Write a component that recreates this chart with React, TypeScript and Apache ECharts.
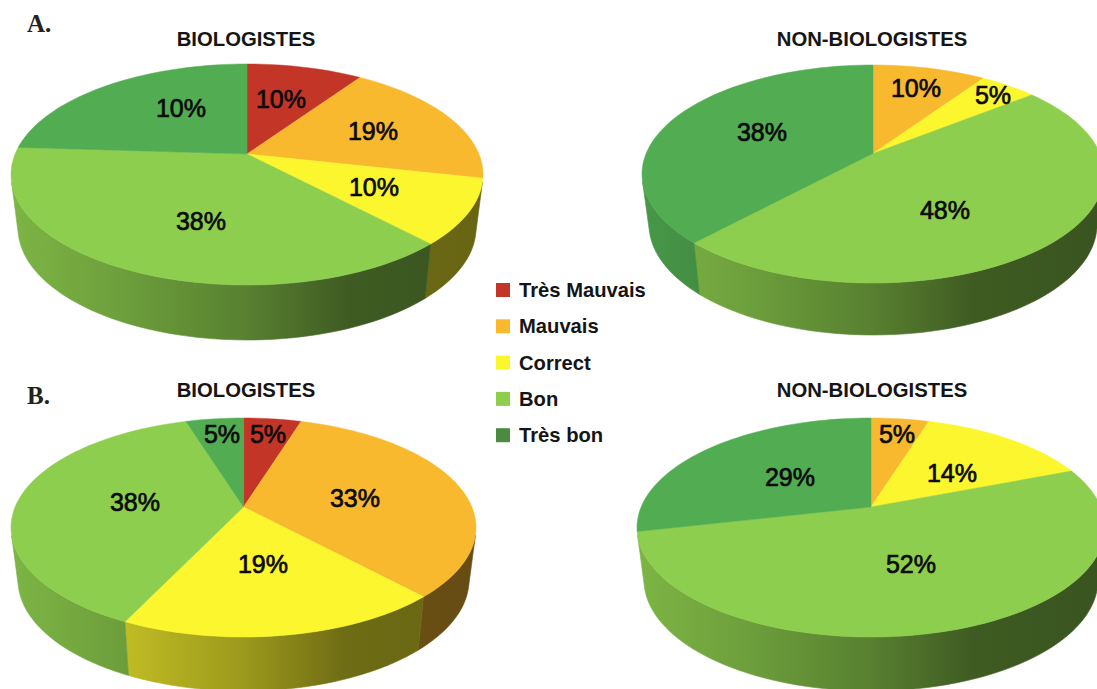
import React, { useEffect, useRef } from "react";
import * as echarts from "echarts";

const WIDTH = 1097;
const HEIGHT = 689;

// ---- data -------------------------------------------------------------
const CATEGORIES = ["Très Mauvais", "Mauvais", "Correct", "Bon", "Très bon"];
const PANEL_TITLES = ["BIOLOGISTES", "NON-BIOLOGISTES", "BIOLOGISTES", "NON-BIOLOGISTES"];

// share of each pie (A bio, A non-bio, B bio, B non-bio), in percent
const tresMauvais = [9.5, 0, 4.8, 0];
const mauvais = [19, 9.5, 33.3, 4.8];
const correct = [9.5, 4.8, 19, 14.3];
const bon = [38, 47.6, 38.1, 52.4];
const tresBon = [24, 38.1, 4.8, 28.6];

// printed labels (as printed in the figure)
const labelsTresMauvais = ["10%", "", "5%", ""];
const labelsMauvais = ["19%", "10%", "33%", "5%"];
const labelsCorrect = ["10%", "5%", "19%", "14%"];
const labelsBon = ["38%", "48%", "38%", "52%"];
const labelsTresBon = ["10%", "38%", "5%", "29%"];

const VALUES = [tresMauvais, mauvais, correct, bon, tresBon];
const LABELS = [labelsTresMauvais, labelsMauvais, labelsCorrect, labelsBon, labelsTresBon];

// ---- layout and style ---------------------------------------------------
const COLORS = ["#C33527", "#F9B92F", "#FBF62E", "#8ECE4E", "#52AD52"];
const LEGEND_COLORS = ["#C33527", "#F9B92F", "#FBF62E", "#8ECE4E", "#4B8B3F"];

// cx, rx: top disc; top/front: its upper and lower edge; apexY: centre of the pie; base: lowest wall edge
const GEOMETRY = [
  { cx: 247, rx: 236, top: 64, front: 285, apexY: 154, base: 340 },
  { cx: 873, rx: 231, top: 65, front: 283, apexY: 153.5, base: 335 },
  { cx: 243.5, rx: 232.5, top: 418, front: 637, apexY: 507, base: 691 },
  { cx: 871, rx: 234, top: 418, front: 637, apexY: 507, base: 691 },
];

// label centres, per category then per panel
const LABEL_XY: (number[] | null)[][] = [
  [[281, 99], null, [268, 434], null],
  [[373, 131], [916, 88], [355, 498], [897, 434]],
  [[374, 187], [993, 95], [263, 564], [952, 473]],
  [[201, 221], [945, 210], [135, 502], [911, 564]],
  [[181, 108], [762, 132], [222, 434], [790, 477]],
];

const TITLE_XY = [
  [246, 29],
  [872, 29],
  [246, 380],
  [872, 380],
];

const WALL_STOPS = [
  [0, 0.88],
  [0.25, 0.76],
  [0.5, 0.62],
  [0.72, 0.44],
  [1, 0.41],
];

// height on the projected disc (0 = widest point) where the wall's outline leaves the rim
const WALL_TANGENT = 0.07;

function shade(hex: string, m: number) {
  const n = parseInt(hex.slice(1), 16);
  const r = Math.round(((n >> 16) & 255) * m);
  const g = Math.round(((n >> 8) & 255) * m);
  const b = Math.round((n & 255) * m);
  return `rgb(${r},${g},${b})`;
}

function tilt(g: any) {
  return ((g.top + g.front) / 2 - g.apexY) / ((g.front - g.top) / 2);
}

// perspective view of a unit disc: its centre lands on the apex, its rim on the ellipse
function project(g: any, theta: number, rx: number, ey: number, ry: number) {
  const a = tilt(g);
  const x = Math.sin(theta);
  const y = -Math.cos(theta);
  const d = 1 - a * y;
  return [g.cx + (rx * x * Math.sqrt(1 - a * a)) / d, ey + (ry * (y - a)) / d];
}

function topRim(g: any, from: number, to: number) {
  const ry = (g.front - g.top) / 2;
  const ey = (g.top + g.front) / 2;
  const steps = Math.max(4, Math.ceil((to - from) * 180));
  const pts: number[][] = [];
  for (let i = 0; i <= steps; i++) {
    pts.push(project(g, (from + ((to - from) * i) / steps) * Math.PI * 2, g.rx, ey, ry));
  }
  return pts;
}

function baseRim(g: any, from: number, to: number) {
  const ryB = (g.front - g.top) / 2 + 1.5;
  const eyB = g.base - ryB;
  const steps = Math.max(4, Math.ceil((to - from) * 180));
  const pts: number[][] = [];
  for (let i = 0; i <= steps; i++) {
    pts.push(project(g, (from + ((to - from) * i) / steps) * Math.PI * 2, g.rx - 7, eyB, ryB));
  }
  return pts;
}

function buildSeries() {
  return CATEGORIES.map((name, k) => {
    const data = VALUES[k].map((v, p) => {
      let before = 0;
      let total = 0;
      VALUES.forEach((vals, j) => {
        total += vals[p];
        if (j < k) before += vals[p];
      });
      return { value: [p, before / total, (before + v) / total] };
    });
    return {
      name,
      type: "custom",
      coordinateSystem: "none",
      silent: true,
      color: COLORS[k],
      itemStyle: { color: COLORS[k] },
      data,
      renderItem: (_params: any, api: any) => {
        const p = api.value(0);
        const from = api.value(1);
        const to = api.value(2);
        if (to - from <= 0) return { type: "group", children: [] };
        const g = GEOMETRY[p];
        const children: any[] = [];

        // the wall only shows on the part of the rim below the outline's tangent point
        const a = tilt(g);
        const yAtTangent = (WALL_TANGENT + a) / (1 + a * WALL_TANGENT);
        const lo = Math.acos(-yAtTangent) / (Math.PI * 2);
        const wFrom = Math.max(from, lo);
        const wTo = Math.min(to, 1 - lo);
        if (wTo > wFrom) {
          const wallFill = new echarts.graphic.LinearGradient(
            g.cx - g.rx,
            0,
            g.cx + g.rx,
            0,
            WALL_STOPS.map(([offset, m]) => ({ offset, color: shade(COLORS[k], m) })),
            true
          );
          children.push({
            type: "polygon",
            z2: 1,
            shape: { points: topRim(g, wFrom, wTo).concat(baseRim(g, wFrom, wTo).reverse()) },
            style: { fill: wallFill, stroke: wallFill, lineWidth: 0.6 },
          });
        }
        children.push({
          type: "polygon",
          z2: 2,
          shape: { points: [[g.cx, g.apexY], ...topRim(g, from, to)] },
          style: { fill: COLORS[k], stroke: COLORS[k], lineWidth: 0.5 },
        });
        const xy = LABEL_XY[k][p];
        if (xy && LABELS[k][p]) {
          children.push({
            type: "text",
            z2: 3,
            style: {
              text: LABELS[k][p],
              x: xy[0],
              y: xy[1],
              align: "center",
              verticalAlign: "middle",
              font: '25px "Liberation Sans", Arial, sans-serif',
              fill: "#0b0b0b",
              stroke: "#0b0b0b",
              lineWidth: 0.7,
            },
          });
        }
        return { type: "group", children };
      },
    };
  });
}

function buildOption() {
  return {
    animation: false,
    backgroundColor: "#ffffff",
    title: [
      ...PANEL_TITLES.map((text, i) => ({
        text,
        left: TITLE_XY[i][0],
        top: TITLE_XY[i][1],
        textAlign: "center",
        padding: 0,
        textStyle: {
          fontFamily: '"Liberation Sans", Arial, sans-serif',
          fontWeight: "bold",
          fontSize: 20.3,
          color: "#151515",
        },
      })),
      {
        text: "A.",
        left: 27,
        top: 11,
        padding: 0,
        textStyle: { fontFamily: '"Liberation Serif", serif', fontWeight: "bold", fontSize: 25, color: "#222" },
      },
      {
        text: "B.",
        left: 27,
        top: 383,
        padding: 0,
        textStyle: { fontFamily: '"Liberation Serif", serif', fontWeight: "bold", fontSize: 25, color: "#222" },
      },
    ],
    legend: {
      orient: "vertical",
      left: 496,
      top: 280,
      padding: 0,
      icon: "rect",
      itemWidth: 14,
      itemHeight: 14,
      itemGap: 16.3,
      selectedMode: false,
      data: CATEGORIES.map((name, k) => ({ name, itemStyle: { color: LEGEND_COLORS[k] } })),
      textStyle: {
        fontFamily: '"Liberation Sans", Arial, sans-serif',
        fontWeight: "bold",
        fontSize: 20.2,
        lineHeight: 20,
        color: "#151515",
        padding: [0, 0, 0, 4],
      },
    },
    series: buildSeries(),
  };
}

export default function App() {
  const ref = useRef<HTMLDivElement>(null);
  useEffect(() => {
    if (!ref.current) return;
    const chart = echarts.init(ref.current, undefined, { renderer: "svg", width: WIDTH, height: HEIGHT });
    chart.setOption(buildOption() as any);
    return () => chart.dispose();
  }, []);
  return <div ref={ref} style={{ position: "absolute", left: 0, top: 0, width: WIDTH, height: HEIGHT, overflow: "hidden" }} />;
}
